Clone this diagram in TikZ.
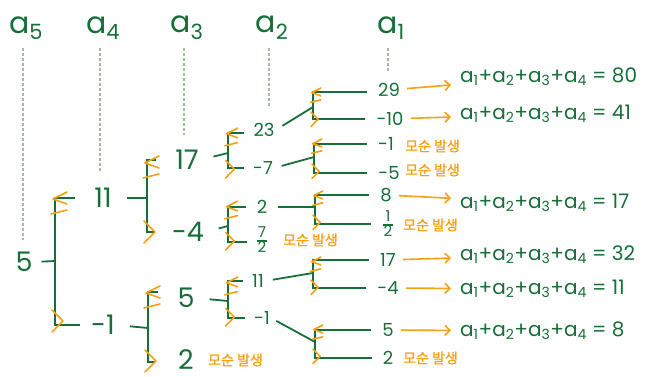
\documentclass[tikz,border=0pt]{standalone}
\usepackage{fontspec}
\setmainfont{Poppins}
\newfontfamily\kr{Noto Sans CJK KR}[FakeBold=1.5]
\usetikzlibrary{arrows.meta}

\definecolor{pen}{RGB}{22,110,56}
\definecolor{hl}{RGB}{247,160,20}
\definecolor{guide}{RGB}{165,185,165}

\newcommand{\halb}[2]{{\fontsize{15}{15}\selectfont\setlength{\arrayrulewidth}{1.3pt}\setlength{\tabcolsep}{1pt}\renewcommand{\arraystretch}{0.65}\begin{tabular}{c}#1\\\hline#2\end{tabular}}}
\newcommand{\suma}{a\textsubscript{1}+a\textsubscript{2}+a\textsubscript{3}+a\textsubscript{4} = }

\tikzset{
  big/.style={text=pen,font=\fontsize{27}{27}\selectfont,inner sep=1pt},
  sml/.style={text=pen,font=\fontsize{18}{18}\selectfont,inner sep=1pt},
  head/.style={text=pen,font=\fontsize{30}{30}\selectfont,inner sep=0pt},
  eqn/.style={text=pen,font=\fontsize{20}{20}\selectfont,anchor=west,inner sep=0pt},
  note/.style={text=hl,font=\kr\fontsize{14}{14}\selectfont,anchor=west,inner sep=0pt},
  br/.style={draw=pen,line width=1.8pt},
  mk/.style={draw=hl,line width=1.6pt,line cap=round,line join=round},
  res/.style={draw=hl,line width=1.6pt,-{Straight Barb[length=5pt,width=10pt]},shorten <=6pt,shorten >=9pt},
  guideline/.style={draw=guide,line width=1.4pt,dash pattern=on 3pt off 2pt}
}

\begin{document}
\begin{tikzpicture}[x=1pt,y=-1pt]
\useasboundingbox (0,0) rectangle (651,377);

\foreach \k/\x/\e in {5/23/240,4/100/173,3/184/135,2/269/108,1/388/72} {
  \node[head] (h\k) at (\x+3,28) {a\textsubscript{\k}};
  \draw[guideline] (\x,48) -- (\x,\e);
}

\node[big] (r5) at (24,262) {5};

\node[big] (b11) at (103,198) {11};
\node[big] (bm1) at (103,325) {-1};

\node[big] (c17) at (187,160) {17};
\node[big] (cm4) at (188,232) {-4};
\node[big] (c5) at (186,298) {5};
\node[big] (c2) at (186,360) {2};
\node[note] (x2) at (208,360) {모순 발생};

\node[sml] (d23) at (264,130) {23};
\node[sml] (dm7) at (263,168) {-7};
\node[sml] (d2) at (262,207) {2};
\node[sml] (d72) at (262,241) {\halb{7}{2}};
\node[note] (x72) at (283,240) {모순 발생};
\node[sml] (d11) at (258,281) {11};
\node[sml] (dm1) at (262,318) {-1};

\node[sml] (e29) at (389,90) {29};
\node[sml] (em10) at (390,119) {-10};
\node[sml] (em1) at (386,144) {-1};
\node[note] (xm1) at (405,146) {모순 발생};
\node[sml] (em5) at (389,173) {-5};
\node[note] (xm5) at (405,170) {모순 발생};
\node[sml] (e8) at (386,195) {8};
\node[sml] (e12) at (388,225) {\halb{1}{2}};
\node[note] (x12) at (403,225) {모순 발생};
\node[sml] (e17) at (388,260) {17};
\node[sml] (em4) at (388,288) {-4};
\node[sml] (e5) at (388,330) {5};
\node[sml] (e2) at (388,358) {2};
\node[note] (xe2) at (403,358) {모순 발생};

\node[eqn] (q80) at (460,77) {\suma 80};
\node[eqn] (q41) at (460,114) {\suma 41};
\node[eqn] (q17) at (460,203) {\suma 17};
\node[eqn] (q32) at (460,255) {\suma 32};
\node[eqn] (q11) at (460,289) {\suma 11};
\node[eqn] (q8) at (460,331) {\suma 8};

\coordinate (j5) at (55,261);
\coordinate (j11) at (147,198);
\coordinate (jm1) at (148,328);
\coordinate (j17) at (228,153);
\coordinate (jm4) at (228,226);
\coordinate (j5b) at (228,301);
\coordinate (j23) at (313,107);
\coordinate (jm7) at (314,157);
\coordinate (j2) at (315,207);
\coordinate (j11b) at (313,273);
\coordinate (jm1b) at (315,342);

\draw[br,shorten <=8pt] (r5.east) -- (j5);
\draw[br,shorten <=18pt,shorten >=10pt] (b11.west) -| (j5) |- (bm1.west);

\draw[br,shorten <=14pt] (b11.east) -- (j11);
\draw[br,shorten <=18pt,shorten >=16pt] (c17.west) -| (j11) |- (cm4.west);
\draw[br,shorten <=14pt] (bm1.east) -- (jm1);
\draw[br,shorten <=18pt,shorten >=22pt] ([yshift=6pt]c5.west) -| (jm1) |- ([yshift=-2pt]c2.west);

\draw[br,shorten <=14pt] (c17.east) -- (j17);
\draw[br,shorten <=8pt,shorten >=8pt] ([yshift=-3pt]d23.west) -| (j17) |- (dm7.west);
\draw[br,shorten <=14pt] (cm4.east) -- (jm4);
\draw[br,shorten <=10pt,shorten >=8pt] (d2.west) -| (jm4) |- ([yshift=-1pt]d72.west);
\draw[br,shorten <=14pt] (c5.east) -- (j5b);
\draw[br,shorten <=8pt,shorten >=8pt] (d11.west) -| (j5b) |- (dm1.west);

\draw[br,shorten <=8pt] (d23.east) -- (j23);
\draw[br,shorten <=10pt,shorten >=10pt] ([yshift=-2pt]e29.west) -| (j23) |- (em10.west);
\draw[br,shorten <=8pt] (dm7.east) -- (jm7);
\draw[br,shorten <=10pt,shorten >=10pt] (em1.west) -| (jm7) |- (em5.west);
\draw[br,shorten <=10pt] (d2.east) -- (j2);
\draw[br,shorten <=10pt,shorten >=10pt] (e8.west) -| (j2) |- ([yshift=1pt]e12.west);
\draw[br,shorten <=8pt] (d11.east) -- (j11b);
\draw[br,shorten <=10pt,shorten >=10pt] (e17.west) -| (j11b) |- (em4.west);
\draw[br,shorten <=6pt] (dm1.east) -- (jm1b);
\draw[br,shorten <=10pt,shorten >=10pt] (e5.west) -| (jm1b) |- (e2.west);

\foreach \x/\t/\b/\s in {55/198/322/1, 147/162/233/1, 148/292/362/1, 228/133/170/0.8, 228/206/242/0.8, 228/282/318/0.8, 313/92/120/0.65, 314/143/172/0.65, 315/195/223/0.65, 313/261/288/0.65, 315/329/357/0.65} {
  \begin{scope}[shift={(\x,\t)},scale=\s]
    \draw[mk] (12,-6) -- (-2,1) -- (12,6);
    \draw[mk] (-4,16) -- (12,12);
  \end{scope}
  \begin{scope}[shift={(\x,\b)},scale=\s]
    \draw[mk] (-3,-12) -- (8,-1) -- (-3,10);
  \end{scope}
}

\draw[res] (e29) -- (q80);
\draw[res] (em10) -- (q41);
\draw[res] (e8) -- (q17);
\draw[res] (e17) -- (q32);
\draw[res] (em4) -- (q11);
\draw[res] (e5) -- (q8);
\end{tikzpicture}
\end{document}
